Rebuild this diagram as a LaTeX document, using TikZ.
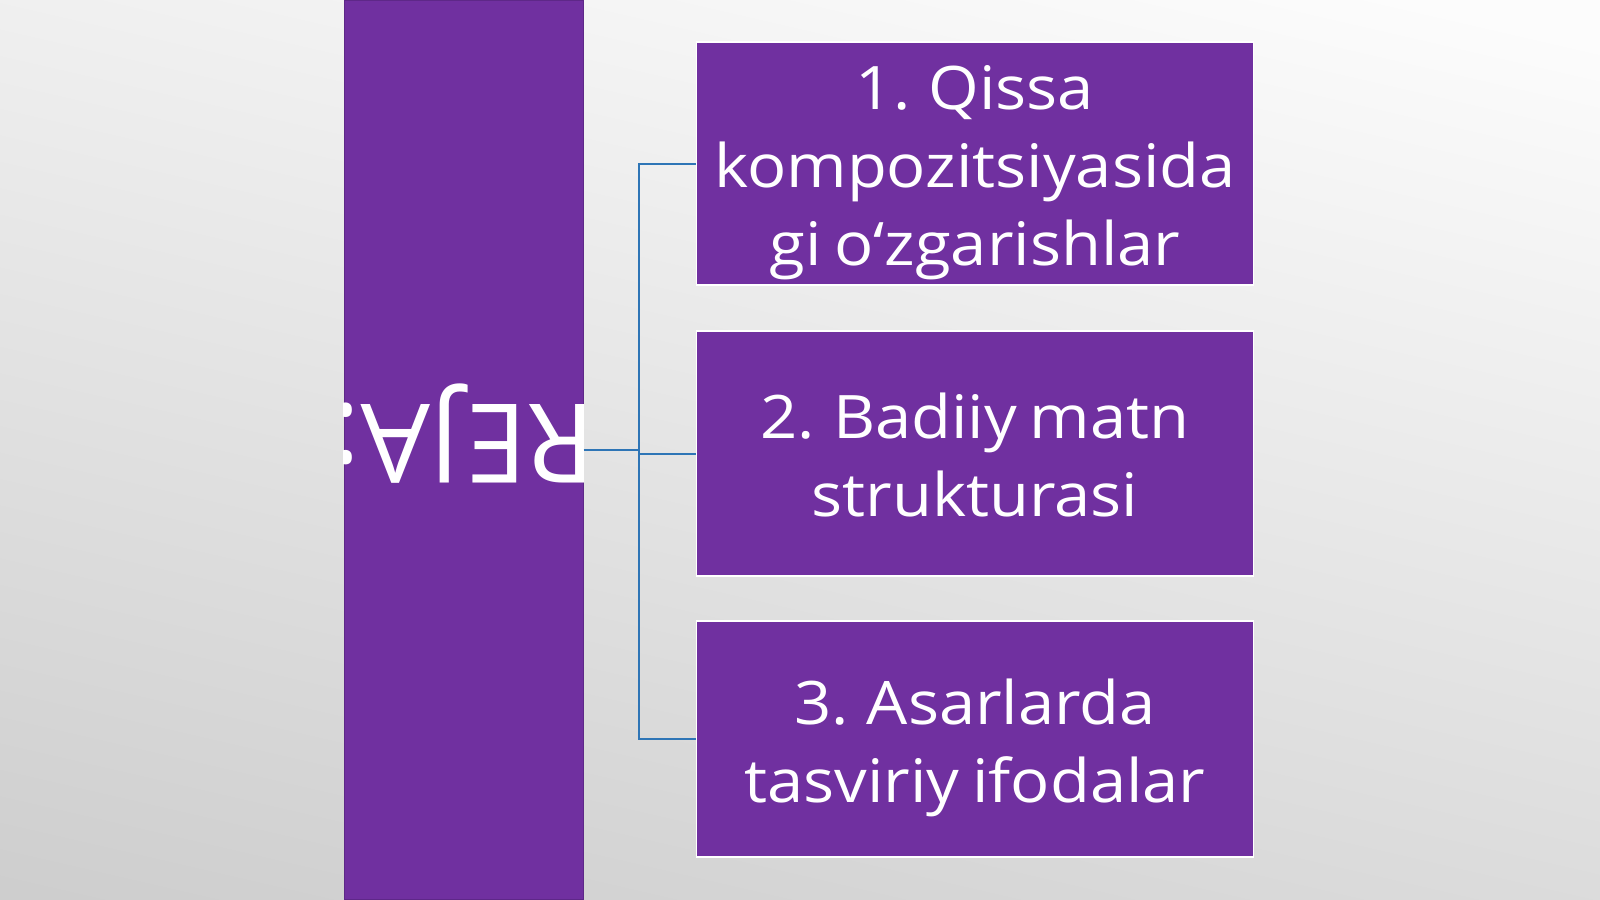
\documentclass[tikz,border=0pt]{standalone}
\usepackage{fontspec}
\setmainfont{Open Sans}
\newfontfamily\boxfont{Open Sans}[FakeStretch=1.085]
\definecolor{purp}{HTML}{7030A0}
\definecolor{purpedge}{HTML}{5E2888}
\definecolor{conncol}{HTML}{2E75B6}
\definecolor{bgdark}{HTML}{BABABA}
\definecolor{bglight}{HTML}{FCFCFC}
\pgfdeclareverticalshading{bgsh}{100bp}{color(0bp)=(bgdark); color(17bp)=(bgdark); color(67bp)=(bglight); color(100bp)=(bglight)}
\newcommand{\ls}{\rule[-15pt]{0pt}{78pt}}
\newcommand{\boxtextfont}{\boxfont\fontsize{60}{78}\selectfont\spaceskip=0.75\fontdimen2\font\relax}
\tikzset{
  leftbar/.style={fill=purp, draw=purpedge, line width=1pt, inner sep=0pt,
    minimum width=239pt, minimum height=898pt},
  itembox/.style={fill=purp, draw=white, line width=1.5pt, minimum width=557pt,
    inner sep=0pt, text=white, align=center, font=\boxtextfont},
  connector/.style={draw=conncol, line width=2pt},
  rejatext/.style={rotate=180, anchor=base, text=white, inner sep=0pt,
    font=\fontsize{110}{132}\selectfont}
}
\begin{document}
\begin{tikzpicture}[x=1pt, y=-1pt]
\useasboundingbox (0,0) rectangle (1600,899);
\begin{scope}
  \clip (0,0) rectangle (1600,899);
  \begin{scope}[transform canvas={rotate around={-13:(800,450)}}]
    \shade[shading=bgsh] (-400,-400) rectangle (2000,1300);
  \end{scope}
\end{scope}

\node[leftbar] (reja) at (463.5,450) {};
\begin{scope}
  \clip (reja.south west) rectangle (reja.north east);
  \node[rejatext] (rejatxt) at (463.5,404) {REJA:};
\end{scope}

\node[itembox, minimum height=243pt] (b1) at (975,163.5)
  {\ls 1. Qissa\\ \ls kompozitsiyasida\\ \ls gi o‘zgarishlar};
\node[itembox, minimum height=245pt] (b2) at (975,453.5)
  {\ls 2. Badiiy matn\\ \ls strukturasi};
\node[itembox, minimum height=236pt] (b3) at (975,739)
  {\ls 3. Asarlarda\\ \ls tasviriy ifodalar};

\coordinate (j) at (639,450);
\draw[connector] (reja.east) -- (j);
\draw[connector] (j) |- (b1.west);
\draw[connector] (j) |- (b2.west);
\draw[connector] (j) |- (b3.west);
\end{tikzpicture}
\end{document}
